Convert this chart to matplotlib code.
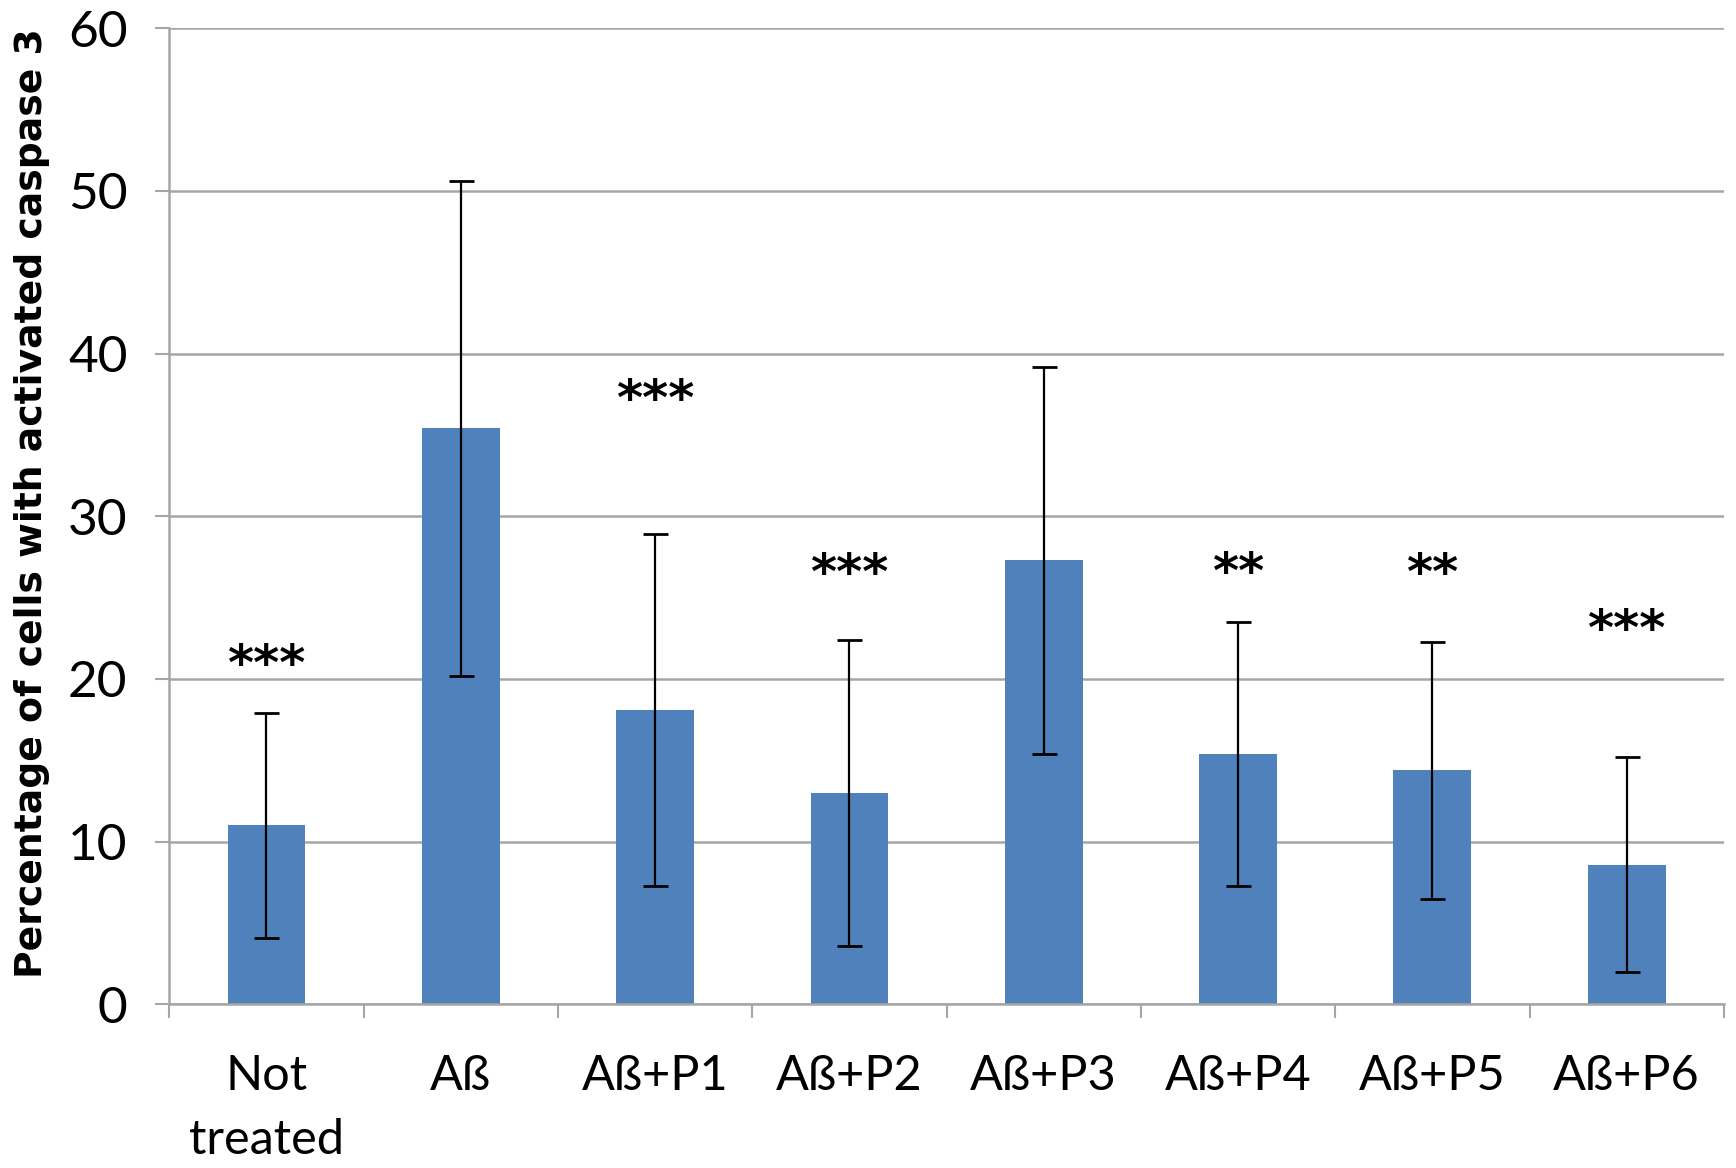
import matplotlib
matplotlib.use('Agg')
import matplotlib.pyplot as plt
import numpy as np

categories = ['Not\ntreated', 'Aß', 'Aß+P1', 'Aß+P2', 'Aß+P3', 'Aß+P4', 'Aß+P5', 'Aß+P6']
means = [11.0, 35.4, 18.1, 13.0, 27.3, 15.4, 14.4, 8.6]
errs = [6.9, 15.2, 10.8, 9.4, 11.9, 8.1, 7.9, 6.6]
stars = ['***', '', '***', '***', '', '**', '**', '***']
star_y = [19.3, 0, 35.6, 24.9, 0, 25.0, 24.9, 21.5]

fig = plt.figure(figsize=(17.36, 11.68), dpi=100)
ax = fig.add_axes([0.0975, 0.140, 0.8955, 0.836])

x = np.arange(len(categories))
ax.bar(x, means, width=0.4, color='#4f81bd', zorder=2)
ax.errorbar(x, means, yerr=errs, fmt='none', ecolor='black', elinewidth=1.6,
            capsize=9, capthick=2, zorder=3)

for i, s in enumerate(stars):
    if s:
        ax.text(x[i], star_y[i], s, ha='center', va='bottom', fontsize=36,
                fontweight='bold', family='DejaVu Sans')

ax.set_xlim(-0.5, len(categories) - 0.5)
ax.set_ylim(0, 60)
ax.set_yticks(np.arange(0, 61, 10))
ax.yaxis.grid(True, color='#a6a6a6', linewidth=1.8, zorder=0)
ax.set_axisbelow(True)

ax.set_xticks(x)
ax.set_xticklabels(categories, fontsize=35, family='Lato', linespacing=1.55)
ax.set_xticks(np.arange(-0.5, len(categories)), minor=True)
ax.tick_params(axis='x', which='major', length=0, pad=36)
ax.tick_params(axis='x', which='minor', length=10, width=1.5, color='#a6a6a6', direction='out')
ax.tick_params(axis='y', length=10, width=1.5, color='#a6a6a6', labelsize=37, pad=20)
for lab in ax.get_yticklabels():
    lab.set_family('Lato')

for sp in ['top', 'right']:
    ax.spines[sp].set_visible(False)
ax.spines['left'].set_color('#a6a6a6')
ax.spines['bottom'].set_color('#a6a6a6')
ax.spines['left'].set_linewidth(1.8)
ax.spines['bottom'].set_linewidth(1.8)

ax.set_ylabel('Percentage of cells with activated caspase 3', fontsize=27.2,
              fontweight='bold', family='DejaVu Sans')
ax.yaxis.set_label_coords(-0.077, 0.513)

fig.savefig('out.png', dpi=100)
